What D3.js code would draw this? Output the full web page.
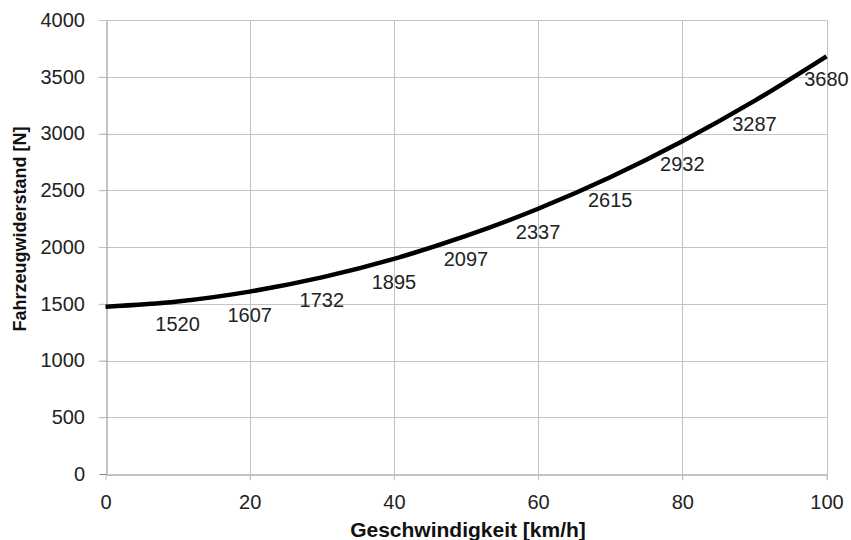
<!DOCTYPE html>
<html>
<head>
<meta charset="utf-8">
<script src="https://cdn.jsdelivr.net/npm/d3@7"></script>
<style>
  html, body { margin: 0; padding: 0; background: #fff; }
  svg { display: block; font-family: "Liberation Sans", Arial, Helvetica, sans-serif; }
</style>
</head>
<body>
<svg id="chart" width="851" height="540"></svg>
<script>
// Data
const speeds = [0, 10, 20, 30, 40, 50, 60, 70, 80, 90, 100];
const resistance = [1474, 1520, 1607, 1732, 1895, 2097, 2337, 2615, 2932, 3287, 3680];
const labelSpeeds = [10, 20, 30, 40, 50, 60, 70, 80, 90, 100];
const labelValues = [1520, 1607, 1732, 1895, 2097, 2337, 2615, 2932, 3287, 3680];
const xTicks = [0, 20, 40, 60, 80, 100];
const yTicks = [0, 500, 1000, 1500, 2000, 2500, 3000, 3500, 4000];
const xTitle = "Geschwindigkeit [km/h]";
const yTitle = "Fahrzeugwiderstand [N]";

(function () {
const FONT = '"Liberation Sans", Arial, Helvetica, sans-serif';
const svg = d3.select("#chart");
const pL = 105.5, pR = 826.5, pT = 20, pB = 474;

const x = d3.scaleLinear().domain([0, 100]).range([pL, pR]);
const y = d3.scaleLinear().domain([0, 4000]).range([pB, pT]);

// horizontal gridlines
svg.append("g").selectAll("line").data(yTicks.filter(d => d > 0)).join("line")
  .attr("x1", pL - 7).attr("x2", pR)
  .attr("y1", d => Math.round(y(d)) + 0.5).attr("y2", d => Math.round(y(d)) + 0.5)
  .attr("stroke", "#c3c3c3").attr("stroke-width", 1);

// vertical gridlines
svg.append("g").selectAll("line").data(xTicks.filter(d => d > 0)).join("line")
  .attr("x1", d => Math.round(x(d)) + 0.5).attr("x2", d => Math.round(x(d)) + 0.5)
  .attr("y1", pT).attr("y2", pB + 6)
  .attr("stroke", "#c3c3c3").attr("stroke-width", 1);

// axes via d3
const xAxis = svg.append("g").attr("transform", `translate(0,${Math.round(pB) + 0.5})`)
  .call(d3.axisBottom(x).tickValues(xTicks).tickFormat(d3.format("d"))
    .tickSize(6).tickSizeOuter(0).tickPadding(14));
const yAxis = svg.append("g").attr("transform", `translate(${Math.round(pL) + 0.5},0)`)
  .call(d3.axisLeft(y).tickValues(yTicks).tickFormat(d3.format("d"))
    .tickSize(7).tickSizeOuter(0).tickPadding(14.5));

[xAxis, yAxis].forEach(a => {
  a.attr("font-family", FONT).attr("font-size", 20);
  a.select(".domain").attr("stroke", "#8a8a8a").attr("stroke-width", 1);
  a.selectAll(".tick line").attr("stroke", "#c3c3c3");
  a.selectAll(".tick text").attr("fill", "#222");
});
yAxis.selectAll(".tick line").filter(d => d === 0).attr("stroke", "#8a8a8a");

// curve
const line = d3.line().x((d, i) => x(speeds[i])).y(d => y(d)).curve(d3.curveMonotoneX);
svg.append("path").datum(resistance)
  .attr("d", line)
  .attr("fill", "none").attr("stroke", "#000").attr("stroke-width", 4.5)
  .attr("stroke-linecap", "butt");

// data labels
svg.append("g").selectAll("text").data(labelValues).join("text")
  .attr("x", (d, i) => x(labelSpeeds[i]))
  .attr("y", d => y(d) + 30)
  .attr("text-anchor", "middle")
  .attr("font-family", FONT).attr("font-size", 20)
  .attr("fill", "#222")
  .text(d => d);

// axis titles
svg.append("text").attr("x", (pL + pR) / 2 + 2).attr("y", 537)
  .attr("text-anchor", "middle").attr("font-family", FONT)
  .attr("font-size", 21).attr("font-weight", "bold")
  .attr("fill", "#111").text(xTitle);
svg.append("text").attr("transform", `translate(26,229) rotate(-90)`)
  .attr("text-anchor", "middle").attr("font-family", FONT)
  .attr("font-size", 18).attr("font-weight", "bold")
  .attr("fill", "#111").text(yTitle);
})();
</script>
</body>
</html>
